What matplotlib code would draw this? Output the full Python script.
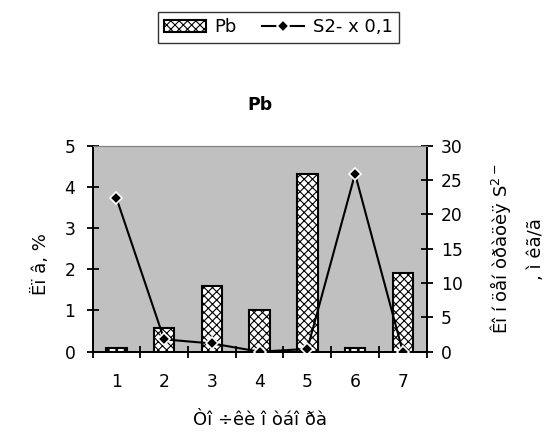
import matplotlib.pyplot as plt
import matplotlib as mpl
import numpy as np

mpl.rcParams['font.family'] = ['DejaVu Sans']
mpl.rcParams['hatch.linewidth'] = 0.8

points = [1, 2, 3, 4, 5, 6, 7]
pb = [0.08, 0.57, 1.6, 1.0, 4.32, 0.08, 1.9]
s2 = [22.4, 1.8, 1.2, 0.0, 0.4, 25.9, 0.0]

fig = plt.figure(figsize=(5.48, 4.47), dpi=100)
ax = fig.add_axes([0.1688, 0.2132, 0.6098, 0.4609])
ax2 = ax.twinx()

x = np.arange(len(points))
ax.set_facecolor('#c0c0c0')
ax.bar(x, pb, width=0.43, color='white', edgecolor='black', hatch='xxxx',
       linewidth=1.5, label='Pb', zorder=2)
ax2.plot(x, s2, color='black', lw=1.5, marker='D', ms=6.5,
         mfc='black', mec='white', mew=1.2, label='S2- x 0,1', zorder=3)

ax.set_xlim(-0.5, len(points) - 0.5)
ax.set_ylim(0, 5)
ax2.set_ylim(0, 30)
ax.set_yticks(range(0, 6))
ax2.set_yticks(range(0, 31, 5))

ax.set_xticks(np.arange(-0.5, len(points), 1.0))
ax.set_xticklabels([])
ax.set_xticks(x, minor=True)
ax.set_xticklabels([str(p) for p in points], minor=True)
ax.tick_params(axis='x', which='major', direction='inout', length=9, width=1.3)
ax.tick_params(axis='x', which='minor', length=0, labelsize=12.3, pad=15)
ax.tick_params(axis='y', direction='inout', length=8.5, width=1.3,
               labelsize=12.3, pad=8)
ax2.tick_params(axis='y', direction='inout', length=8.5, width=1.3,
                labelsize=12.3, pad=6)

for a in (ax, ax2):
    a.spines['top'].set_color('#808080')
    a.spines['left'].set_linewidth(1.3)
    a.spines['right'].set_linewidth(1.3)
    a.spines['bottom'].set_linewidth(1.3)

ax.set_title('Pb', fontsize=12.4, fontweight='bold', pad=26)
ax.set_ylabel('Ëï â, %', fontsize=13)
ax.yaxis.set_label_coords(-0.127, 0.426)
ax.set_xlabel('Òî ÷êè î òáî ðà', fontsize=13, labelpad=15)
ax2.set_ylabel('Êî í öåí òðàöèÿ S$^{2-}$\n, ì êã/ã', fontsize=13,
               linespacing=2.0)
ax2.yaxis.set_label_coords(1.184, 0.5)

h1, l1 = ax.get_legend_handles_labels()
h2, l2 = ax2.get_legend_handles_labels()
leg = fig.legend(h1 + h2, l1 + l2, loc='upper center', bbox_to_anchor=(0.508, 0.973),
                 ncol=2, fontsize=13, frameon=True, fancybox=False,
                 edgecolor='black', handlelength=2.3, columnspacing=1.4,
                 borderpad=0.35, handletextpad=0.5, borderaxespad=0)
leg.get_frame().set_linewidth(1.0)

fig.savefig('out.png', dpi=100)
